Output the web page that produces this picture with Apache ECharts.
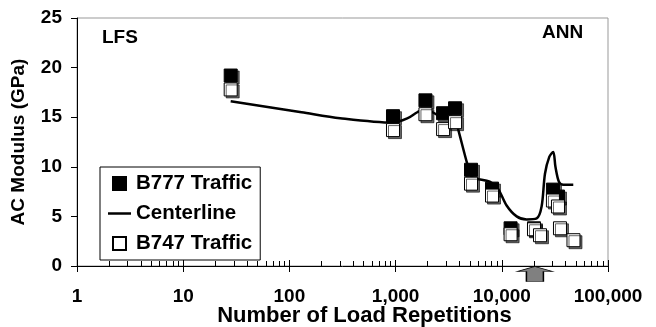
<!DOCTYPE html>
<html>
<head>
  <meta charset="utf-8" />
  <title>AC Modulus</title>
  <script src="https://cdn.jsdelivr.net/npm/echarts@6/dist/echarts.min.js"></script>
  <style>
    html, body {
      height: 100%;
      margin: 0;
      padding: 0;
      background: #fff;
    }
    #main {
      width: 656px;
      height: 327px;
    }
  </style>
</head>
<body>
  <div id="main"></div>

  <script type="text/javascript">
    // values: [load repetitions, modulus GPa]
    const b777 = [
      [28, 19.2], [945, 15.1], [1910, 16.7], [2800, 15.4], [3630, 15.9],
      [5130, 9.7], [8090, 7.8], [12100, 3.8], [20100, 3.8], [30300, 7.7], [33800, 7.0]
    ];
    const b747 = [
      [28, 17.8], [945, 13.7], [1910, 15.3], [2800, 13.8], [3630, 14.5],
      [5130, 8.3], [8090, 7.1], [12100, 3.2], [20100, 3.7], [22900, 3.1],
      [30300, 6.6], [33800, 6.0], [35300, 3.8], [47300, 2.6]
    ];
    const centerline = [
      [28, 16.6], [130, 15.5], [300, 14.9], [940, 14.45], [1300, 14.9],
      [1600, 15.5], [1900, 15.8], [2400, 15.3], [2800, 14.9], [3200, 15.0],
      [3600, 15.0], [3900, 13.7], [4700, 10.4], [5200, 9.0], [5800, 8.8],
      [7700, 8.5], [9200, 7.8], [11100, 6.1], [13800, 5.0], [17100, 4.7],
      [21300, 4.8], [23700, 6.0], [25500, 9.3], [28000, 11.0], [30500, 11.5],
      [32000, 10.0], [34500, 8.5], [37900, 8.2], [47100, 8.2]
    ];
    const arrowAt = 20500;

    const yTicks = [0, 5, 10, 15, 20, 25];
    const decades = [1, 10, 100, 1000, 10000, 100000];
    const minorTicks = [];
    decades.slice(0, -1).forEach(d => {
      for (let k = 2; k <= 9; k++) minorTicks.push(k * d);
    });

    const font = '"Liberation Sans", Arial, sans-serif';
    const square = 'path://M0,0H10V10H0Z';
    const dash = 'path://M0,0H23V2.5H0Z';
    const arrow = 'path://M17.5,0L35,5L26,5L26,15L9,15L9,5L0,5Z';

    const chart = echarts.init(document.getElementById('main'));

    const baseX = {
      type: 'log',
      logBase: 10,
      min: 1,
      max: 100000,
      position: 'bottom',
      splitLine: { show: false },
      axisLabel: { show: false },
      axisLine: { show: false }
    };

    const option = {
      animation: false,
      textStyle: { fontFamily: font },
      grid: {
        left: 77, right: 48, top: 18, bottom: 61,
        outerBoundsMode: 'none',
        show: true,
        borderColor: '#999',
        borderWidth: 1
      },
      legend: {
        orient: 'vertical',
        left: 100,
        top: 167,
        padding: [6, 8, 6, 8],
        itemGap: 9,
        itemWidth: 23,
        itemHeight: 13,
        borderColor: '#000',
        borderWidth: 1,
        backgroundColor: '#fff',
        borderRadius: 0,
        textStyle: { fontSize: 20.5, fontWeight: 'bold', color: '#000', fontFamily: font },
        data: [
          { name: 'B777 Traffic', icon: square },
          { name: 'Centerline', icon: dash },
          { name: 'B747 Traffic', icon: square }
        ]
      },
      xAxis: [
        Object.assign({}, baseX, {
          axisLine: { show: true, lineStyle: { color: '#000', width: 1 } },
          axisTick: { show: true, inside: true, length: 6, lineStyle: { color: '#000' } },
          axisLabel: {
            show: true,
            margin: 21,
            fontSize: 19,
            fontWeight: 'bold',
            color: '#000',
            fontFamily: font,
            formatter: v => Math.round(v).toLocaleString('en-US')
          },
          name: 'Number of Load Repetitions',
          nameLocation: 'middle',
          nameGap: 39,
          nameMoveOverlap: false,
          nameTextStyle: {
            fontSize: 22, fontWeight: 'bold', color: '#000', fontFamily: font,
            padding: [0, 0, 0, 44]
          }
        }),
        Object.assign({}, baseX, {
          axisTick: { show: true, inside: false, length: 6, lineStyle: { color: '#000' } }
        }),
        Object.assign({}, baseX, {
          axisTick: {
            show: true, inside: true, length: 5,
            customValues: minorTicks,
            lineStyle: { color: '#000' }
          }
        })
      ],
      yAxis: {
        type: 'value',
        min: 0,
        max: 25,
        interval: 5,
        splitLine: { show: false },
        axisLine: { show: true, lineStyle: { color: '#000', width: 1 } },
        axisTick: { show: true, inside: false, length: 6, lineStyle: { color: '#000' } },
        axisLabel: {
          margin: 15,
          fontSize: 19,
          fontWeight: 'bold',
          color: '#000',
          fontFamily: font,
          customValues: yTicks
        },
        name: 'AC Modulus (GPa)',
        nameLocation: 'middle',
        nameGap: 49,
        nameMoveOverlap: false,
        nameTextStyle: { fontSize: 19, fontWeight: 'bold', color: '#000', fontFamily: font }
      },
      graphic: [
        {
          type: 'text', left: 102, top: 28,
          style: { text: 'LFS', font: 'bold 19px ' + font, fill: '#000' }
        },
        {
          type: 'text', left: 542, top: 23,
          style: { text: 'ANN', font: 'bold 19px ' + font, fill: '#000' }
        }
      ],
      series: [
        {
          name: 'Centerline',
          type: 'line',
          xAxisIndex: 0,
          data: centerline,
          smooth: 0.3,
          symbol: 'none',
          z: 2,
          lineStyle: { color: '#000', width: 2.5 },
          itemStyle: { color: '#000' },
          markPoint: {
            symbol: arrow,
            symbolSize: [35, 15],
            symbolOffset: [0, 8],
            symbolKeepAspect: false,
            label: { show: false },
            itemStyle: { color: '#808080', borderColor: '#000', borderWidth: 1 },
            data: [{ coord: [arrowAt, 0] }]
          }
        },
        {
          name: 'B777 Traffic',
          type: 'scatter',
          xAxisIndex: 0,
          data: b777,
          symbol: square,
          symbolSize: 13,
          z: 3,
          itemStyle: {
            color: '#000', borderColor: '#000', borderWidth: 1, opacity: 1,
            shadowColor: 'rgba(0,0,0,0.6)', shadowOffsetX: 2, shadowOffsetY: 2, shadowBlur: 0
          }
        },
        {
          name: 'B747 Traffic',
          type: 'scatter',
          xAxisIndex: 0,
          data: b747,
          symbol: square,
          symbolSize: 13,
          z: 4,
          itemStyle: {
            color: '#fff', borderColor: '#000', borderWidth: 1, opacity: 1,
            shadowColor: 'rgba(0,0,0,0.6)', shadowOffsetX: 2, shadowOffsetY: 2, shadowBlur: 0
          }
        }
      ]
    };

    chart.setOption(option);
  </script>
</body>
</html>
